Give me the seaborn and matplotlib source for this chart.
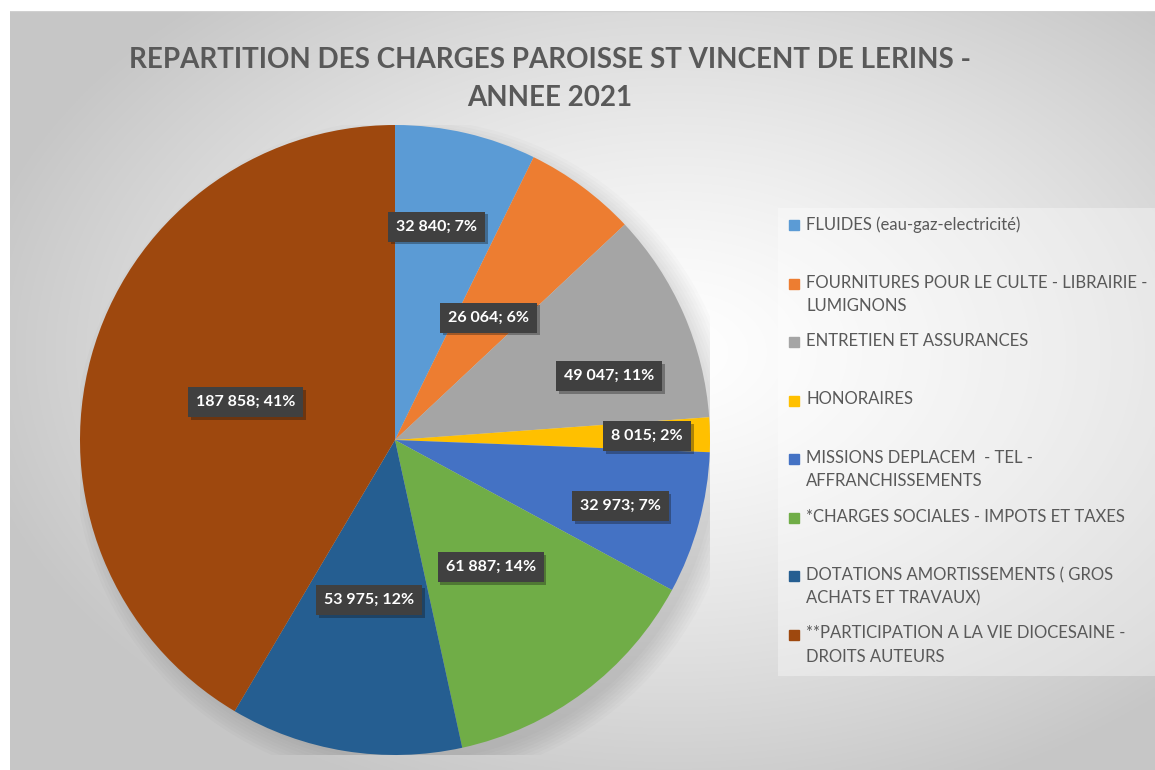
import matplotlib.pyplot as plt
import matplotlib.patches as mpatches
import matplotlib.patheffects as pe
import seaborn as sns
import numpy as np

# données
categories = [
    "FLUIDES (eau-gaz-electricité)",
    "FOURNITURES POUR LE CULTE - LIBRAIRIE -\nLUMIGNONS",
    "ENTRETIEN ET ASSURANCES",
    "HONORAIRES",
    "MISSIONS DEPLACEM  - TEL -\nAFFRANCHISSEMENTS",
    "*CHARGES SOCIALES - IMPOTS ET TAXES",
    "DOTATIONS AMORTISSEMENTS ( GROS\nACHATS ET TRAVAUX)",
    "**PARTICIPATION A LA VIE DIOCESAINE -\nDROITS AUTEURS",
]
montants = [32840, 26064, 49047, 8015, 32973, 61887, 53975, 187858]
pourcentages = [7, 6, 11, 2, 7, 14, 12, 41]

couleurs = ["#5B9BD5", "#ED7D31", "#A5A5A5", "#FFC000",
            "#4472C4", "#70AD47", "#255E91", "#9E480E"]
# placement des étiquettes (fraction du rayon, décalage angulaire en degrés)
label_r = [0.69, 0.49, 0.71, 0.80, 0.745, 0.505, 0.515, 0.49]
label_dang = [2, -1, -7, 0, -1, 0, 0, 1]

sns.set_theme(style="white")
plt.rcParams['font.family'] = ['Lato', 'DejaVu Sans']
gris_txt = "#595959"

fig = plt.figure(figsize=(11.55, 7.7), dpi=100)
fig.patch.set_facecolor("white")

# fond dégradé radial
bg = fig.add_axes([10 / 1155, 0, 1 - 10 / 1155, 1 - 11 / 770])
ny, nx = 300, 450
yy, xx = np.mgrid[0:1:ny * 1j, 0:1:nx * 1j]
d = np.sqrt(((xx - 0.58) / 0.62) ** 2 + ((yy - 0.45) / 0.62) ** 2)
d = np.clip(d, 0, 1)
val = 1.0 - 0.22 * d ** 1.3
bg.imshow(np.dstack([val, val, val]), aspect="auto", extent=[0, 1, 0, 1],
          origin="upper", interpolation="bilinear")
bg.set_xlim(0, 1)
bg.set_ylim(0, 1)
bg.axis("off")
bg.plot([0, 1], [1, 1], color="#d0d0d0", lw=1)

# titre
fig.text(550 / 1155, 1 - 60 / 770,
         "REPARTITION DES CHARGES PAROISSE ST VINCENT DE LERINS -",
         ha="center", va="center", fontsize=20, fontweight="bold",
         color=gris_txt)
fig.text(550 / 1155, 1 - 98 / 770, "ANNEE 2021",
         ha="center", va="center", fontsize=20, fontweight="bold",
         color=gris_txt)

# camembert
R = 315
cx, cy = 395, 440
ax = fig.add_axes([(cx - R) / 1155, (770 - cy - R) / 770, 2 * R / 1155, 2 * R / 770])

# ombre douce
for k in range(8):
    ax.add_patch(mpatches.Circle((0.035, -0.035), 0.985 + 0.01 * k,
                                 color="black", alpha=0.016, lw=0, zorder=0))

wedges, _ = ax.pie(montants, colors=couleurs, startangle=90, counterclock=False,
                   wedgeprops=dict(linewidth=0))
for w in wedges:
    w.set_zorder(2)

for i, w in enumerate(wedges):
    ang = np.deg2rad((w.theta1 + w.theta2) / 2 + label_dang[i])
    x = label_r[i] * np.cos(ang)
    y = label_r[i] * np.sin(ang)
    txt = f"{montants[i]:,}".replace(",", " ") + f"; {pourcentages[i]}%"
    t = ax.text(x, y, txt, ha="center", va="center", fontsize=11.5,
                fontweight="bold", color="white", zorder=4,
                bbox=dict(boxstyle="square,pad=0.5", fc="#404040", ec="none"))
    t.get_bbox_patch().set_path_effects(
        [pe.SimplePatchShadow(offset=(2, -2), alpha=0.35), pe.Normal()])

ax.set_xlim(-1, 1)
ax.set_ylim(-1, 1)
ax.set_aspect("equal")
ax.axis("off")

# légende
lg = fig.add_axes([778 / 1155, (770 - 676) / 770, (1155 - 778) / 1155, (676 - 208) / 770])
lg.set_xlim(0, 377)
lg.set_ylim(468, 0)
lg.patch.set_facecolor("white")
lg.patch.set_alpha(0.35)
for s in lg.spines.values():
    s.set_visible(False)
lg.set_xticks([])
lg.set_yticks([])
pas = 58.5
for i, lab in enumerate(categories):
    y0 = 17 + i * pas
    lg.add_patch(mpatches.Rectangle((11, y0 - 5), 10, 10, color=couleurs[i]))
    lg.text(28, y0 - 9, lab, ha="left", va="top", fontsize=12, color=gris_txt,
            linespacing=1.55)

fig.savefig("out.png", dpi=100, facecolor="white")
